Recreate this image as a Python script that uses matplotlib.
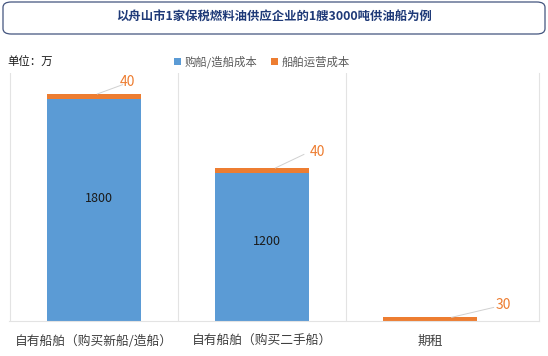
import numpy as np
import matplotlib.pyplot as plt
from matplotlib.patches import FancyBboxPatch

plt.rcParams['font.family'] = ['Noto Sans CJK SC', 'DejaVu Sans']

categories = ['自有船舶（购买新船/造船）', '自有船舶（购买二手船）', '期租']
buy_cost = [1800, 1200, 0]
run_cost = [40, 40, 30]
series_names = ['购船/造船成本', '船舶运营成本']
title = '以舟山市1家保税燃料油供应企业的1艘3000吨供油船为例'

blue = '#5B9BD5'
orange = '#ED7D31'

fig = plt.figure(figsize=(5.48, 3.56), dpi=100)
W, H = 548, 356
ax = fig.add_axes([9 / W, (H - 321) / H, (539 - 9) / W, (321 - 73) / H])

x = np.arange(len(categories))
ax.bar(x, buy_cost, width=0.56, color=blue, label=series_names[0])
ax.bar(x, run_cost, width=0.56, bottom=buy_cost, color=orange, label=series_names[1])

ax.set_xlim(-0.506, 2.65)
ax.set_ylim(0, 2010)
ax.set_yticks([])
ax.set_xticks(x)
ax.set_xticklabels(categories, fontsize=9.2, color='#404040')
ax.tick_params(axis='x', length=0, pad=10)
for s in ['top', 'left']:
    ax.spines[s].set_visible(False)
for s in ['bottom', 'right']:
    ax.spines[s].set_color('#e3e3e3')
    ax.spines[s].set_linewidth(0.8)
for xv in [-0.5, 0.5, 1.5]:
    ax.axvline(xv, color='#e3e3e3', lw=0.8, zorder=0)

# inner value labels
inner_y = [996, 648]
for i in range(2):
    ax.text(x[i] + 0.03, inner_y[i], str(buy_cost[i]), ha='center', va='center',
            fontsize=9, color='#1a1a1a')

# outside labels with leader lines
offsets = [(0.02, 0.17, 1840 + 95, 0.2), (0.08, 0.25, 1240 + 130, 0.33), (0.13, 0.38, 30 + 100, 0.44)]
for i, (x0, x1, ytxt, xt) in enumerate(offsets):
    top = buy_cost[i] + run_cost[i]
    ax.plot([x[i] + x0, x[i] + x1], [top, ytxt - 20], color='#d0d0d0', lw=0.7)
    ax.text(x[i] + xt, ytxt, str(run_cost[i]), ha='center', va='center',
            fontsize=10, color=orange)

# legend
leg = fig.legend(loc='center', bbox_to_anchor=(262 / W, 1 - 62 / H), ncol=2, frameon=False,
                 fontsize=8.2, handlelength=0.6, handleheight=0.6, handletextpad=0.3,
                 columnspacing=1.2, labelcolor='#595959')

fig.text(7 / W, 1 - 62 / H, '单位：万', fontsize=8.2, color='#1a1a1a', ha='left', va='center')

# title box
box = FancyBboxPatch((3 / W, 1 - 34 / H), 542 / W, 32 / H,
                     boxstyle='round,pad=0,rounding_size=0.015',
                     transform=fig.transFigure, facecolor='white',
                     edgecolor='#44557f', lw=0.9)
fig.patches.append(box)
fig.text(0.5, 1 - 17 / H, title, ha='center', va='center', fontsize=8.9,
         fontweight='bold', color='#1f3a78')

fig.savefig('out.png', dpi=100)
